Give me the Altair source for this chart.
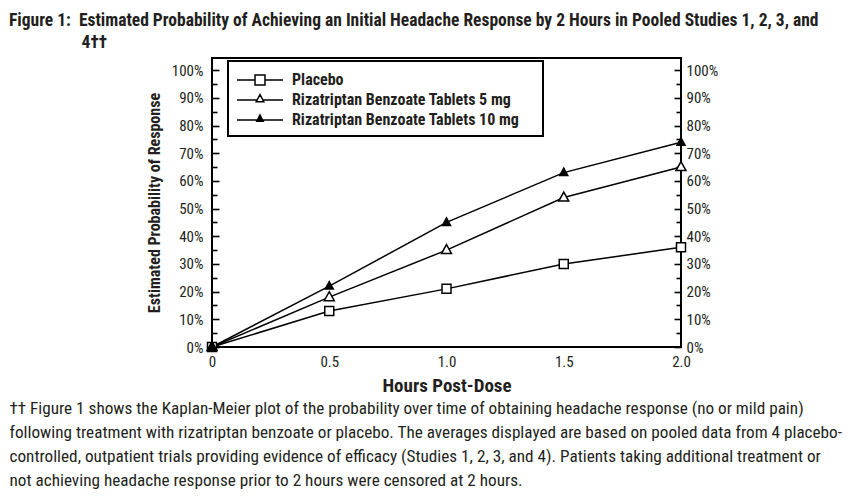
import altair as alt
import pandas as pd

# ---------------- data ----------------
hours = [0.0, 0.5, 1.0, 1.5, 2.0]
series_names = [
    "Placebo",
    "Rizatriptan Benzoate Tablets 5 mg",
    "Rizatriptan Benzoate Tablets 10 mg",
]
placebo = [0, 13, 21, 30, 36]
riza_5mg = [0, 18, 35, 54, 65]
riza_10mg = [0, 22, 45, 63, 74]

x_ticks = [0.0, 0.5, 1.0, 1.5, 2.0]
y_major_ticks = [0, 10, 20, 30, 40, 50, 60, 70, 80, 90, 100]
y_minor_ticks = [5, 15, 25, 35, 45, 55, 65, 75, 85, 95]

title_lines = [
    "Figure 1:\u00a0\u00a0Estimated Probability of Achieving an Initial Headache Response by 2 Hours in Pooled Studies 1, 2, 3, and",
    "\u200b" + "\u00a0" * 18 + "4\u2020\u2020",
]
footnote_lines = [
    "\u2020\u2020 Figure 1 shows the Kaplan-Meier plot of the probability over time of obtaining headache response (no or mild pain)",
    "following treatment with rizatriptan benzoate or placebo. The averages displayed are based on pooled data from 4 placebo-",
    "controlled, outpatient trials providing evidence of efficacy (Studies 1, 2, 3, and 4). Patients taking additional treatment or",
    "not achieving headache response prior to 2 hours were censored at 2 hours.",
]

rows = []
for name, vals in zip(series_names, [placebo, riza_5mg, riza_10mg]):
    for h, v in zip(hours, vals):
        rows.append({"hours": h, "pct": v, "series": name})
df = pd.DataFrame(rows)

# ---------------- styling ----------------
FONT = "Roboto Condensed, Liberation Sans Narrow, DejaVu Sans Condensed, sans-serif"
TXT = "#231f20"

x_scale = alt.Scale(domain=[0, 2], nice=False, zero=False)
y_scale = alt.Scale(domain=[0, 104.4], nice=False, zero=False)

point_shapes = [
    "M-0.45,-0.45H0.45V0.45H-0.45Z",
    "M0,-0.55L0.5,0.35H-0.5Z",
    "M0,-0.45L0.4,0.3H-0.4Z",
]
legend_shapes = [
    "M-1,0H0.8M1.8,0H3.6M0.8,-0.5H1.8V0.5H0.8Z",
    "M-1,0H1.01M1.59,0H3.6M1.3,-0.55L1.68,0.17H0.92Z",
    "M-1,0H3.6M1.3,-0.5L1.62,0.12H0.98Z",
]
fills = ["white", "white", "black"]
strokes = ["black", "black", "black"]

base = alt.Chart(df)

x_main_axis = alt.Axis(
    values=x_ticks, labelExpr="datum.value == 0 ? '0' : format(datum.value, '.1f')",
    ticks=False, tickSize=0, domain=False, grid=False, labelPadding=7,
    labelFont=FONT, labelFontSize=15, labelColor=TXT, labelFlush=False,
    labelOverlap=False, labelBound=False,
    title="Hours Post-Dose", titleFont=FONT, titleFontSize=19, titleFontWeight="bold",
    titleColor=TXT, titlePadding=7,
)
y_left_major = alt.Axis(
    orient="left", values=y_major_ticks, labelExpr="datum.value + '%'",
    tickSize=7, offset=-7, tickWidth=1.6, tickColor="black", domain=False, grid=False,
    labelPadding=9, labelFont=FONT, labelFontSize=15, labelColor=TXT,
    labelOverlap=False, labelBound=False, labelFlush=False,
    title="Estimated Probability of Response", titleFont=FONT, titleFontSize=16,
    titleFontWeight="bold", titleColor=TXT, titlePadding=9,
)
y_left_minor = alt.Axis(
    orient="left", values=y_minor_ticks, labels=False, tickSize=5, offset=-5,
    tickWidth=1.6, tickColor="black", domain=False, grid=False, title=None,
)
y_right_major = alt.Axis(
    orient="right", values=y_major_ticks, labelExpr="datum.value + '%'",
    tickSize=7, offset=-7, tickWidth=1.6, tickColor="black", domain=False, grid=False,
    labelPadding=5, labelFont=FONT, labelFontSize=15, labelColor=TXT,
    labelOverlap=False, labelBound=False, labelFlush=False, title=None,
)
y_right_minor = alt.Axis(
    orient="right", values=y_minor_ticks, labels=False, tickSize=5, offset=-5,
    tickWidth=1.6, tickColor="black", domain=False, grid=False, title=None,
)
x_footnote_axis = alt.Axis(
    orient="bottom", labels=False, ticks=False, domain=False, grid=False,
    title=footnote_lines, titleX=-203, titleY=52, titleAlign="left",
    titleBaseline="top", titleAngle=0, titleFont=FONT, titleFontSize=17.2,
    titleFontWeight="normal", titleColor=TXT, titleLineHeight=24.3,
)

lines = base.mark_line(color="black", strokeWidth=1.5).encode(
    x=alt.X("hours:Q", scale=x_scale, axis=x_main_axis),
    y=alt.Y("pct:Q", scale=y_scale, axis=y_left_major),
    detail="series:N",
)

points = base.mark_point(size=400, stroke="black", strokeWidth=1.5, opacity=1).encode(
    x=alt.X("hours:Q", scale=x_scale, axis=None),
    y=alt.Y("pct:Q", scale=y_scale, axis=y_left_minor),
    shape=alt.Shape("series:N", scale=alt.Scale(domain=series_names, range=point_shapes), legend=None),
    fill=alt.Fill("series:N", scale=alt.Scale(domain=series_names, range=fills), legend=None),
)

legend_spec = alt.Legend(
    orient="none", legendX=16, legendY=3, title=None, strokeColor="black",
    fillColor="white", padding=8, labelFont=FONT, labelFontSize=16,
    labelFontWeight="bold", labelColor=TXT, labelOffset=34, labelLimit=400,
    labelExpr="datum.label + '\u00a0\u00a0\u00a0\u00a0\u200b'",
    symbolSize=400, symbolStrokeColor="black", symbolStrokeWidth=1.5,
    rowPadding=1, values=series_names,
)

legend_layer = base.transform_filter("datum.hours < 0").mark_point(
    size=400, strokeWidth=1.5, opacity=1
).encode(
    x=alt.X("hours:Q", scale=x_scale, axis=x_footnote_axis),
    y=alt.Y("pct:Q", scale=y_scale, axis=y_right_major),
    shape=alt.Shape("series:N", scale=alt.Scale(domain=series_names, range=legend_shapes), legend=legend_spec),
    fill=alt.Fill("series:N", scale=alt.Scale(domain=series_names, range=fills), legend=legend_spec),
    stroke=alt.Stroke("series:N", scale=alt.Scale(domain=series_names, range=strokes), legend=legend_spec),
)

minor_right = base.transform_filter("datum.hours < 0").mark_point(opacity=0).encode(
    x=alt.X("hours:Q", scale=x_scale, axis=None),
    y=alt.Y("pct:Q", scale=y_scale, axis=y_right_minor),
)

chart = alt.layer(lines, points, legend_layer, minor_right).resolve_scale(
    shape="independent", fill="independent", stroke="independent"
).resolve_axis(
    x="independent", y="independent"
).properties(
    width=469, height=289,
    autosize=alt.AutoSizeParams(type="none"),
    padding={"left": 204, "top": 50, "right": 176, "bottom": 143},
    title=alt.Title(
        text=title_lines, anchor="start", frame="group", dx=-203, dy=25, offset=14,
        font=FONT, fontSize=17.5, fontWeight="bold", color=TXT, lineHeight=22,
        baseline="bottom",
    ),
    background="white",
).configure_view(
    stroke="black", strokeWidth=2
).configure_legend(
    strokeWidth=2
)

chart.save("out.html", embed_options={"renderer": "svg", "actions": False})
